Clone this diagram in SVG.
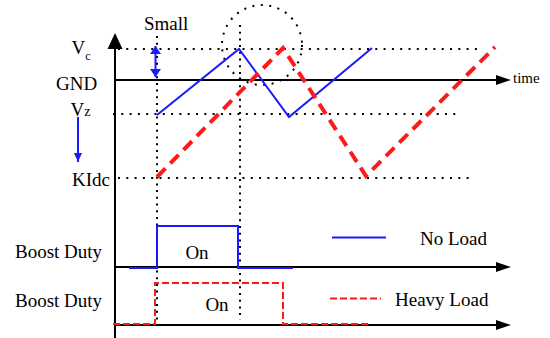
<svg xmlns="http://www.w3.org/2000/svg" width="550" height="338" viewBox="0 0 550 338">
<defs>
<style>
text{font-family:"Liberation Serif","Times New Roman",serif;fill:#000}
.lbl{font-size:19px}
.axis{stroke:#000;stroke-width:2;fill:none}
.dotH{stroke:#000;stroke-width:2;fill:none;stroke-dasharray:2 6.3}
.dotV{stroke:#000;stroke-width:2;fill:none;stroke-dasharray:2 4.7}
.blue{stroke:#1a1aff;stroke-width:2;fill:none}
.redT{stroke:#ff1a1a;stroke-width:4;fill:none;stroke-dasharray:12 7}
.redP{stroke:#ff1a1a;stroke-width:2;fill:none;stroke-dasharray:7 3}
</style>
<marker id="bh" viewBox="0 0 10 10" refX="10" refY="5" markerWidth="8" markerHeight="11" markerUnits="userSpaceOnUse" orient="auto-start-reverse" preserveAspectRatio="none">
<path d="M0,0 L10,5 L0,10 Z" fill="#1a1aff"/>
</marker>
<marker id="bh2" viewBox="0 0 10 10" refX="10" refY="5" markerWidth="9" markerHeight="8" markerUnits="userSpaceOnUse" orient="auto" preserveAspectRatio="none">
<path d="M0,0 L10,5 L0,10 Z" fill="#1a1aff"/>
</marker>
</defs>

<g id="axes">
<line class="axis" x1="115" y1="338" x2="115" y2="46"/>
<polygon points="115,33 107.5,49 122.5,49" fill="#000"/>
<line class="axis" x1="115" y1="80" x2="498" y2="80"/>
<polygon points="511,80 496,75 496,85" fill="#000"/>
<line class="axis" x1="115" y1="267" x2="498" y2="267"/>
<polygon points="511,267 496,262 496,272" fill="#000"/>
<line class="axis" x1="115" y1="325" x2="498" y2="325"/>
<polygon points="511,325 496,320 496,330" fill="#000"/>
</g>

<g id="guides">
<line class="dotH" x1="118" y1="49" x2="477" y2="49"/>
<line class="dotH" x1="113" y1="114" x2="460" y2="114"/>
<line class="dotH" x1="118" y1="178" x2="474" y2="178"/>
<line class="dotV" x1="157" y1="36" x2="157" y2="322"/>
<line class="dotV" x1="240" y1="25" x2="240" y2="320"/>
<circle cx="262" cy="45" r="40" fill="none" stroke="#000" stroke-width="2" stroke-dasharray="2 6.5"/>
</g>

<g id="connectors">
<polyline class="blue" points="157,115 239,49 289,117 372,48"/>
<polyline class="redT" points="157,177 283,48 366,176 495,47"/>
<line class="blue" x1="155.5" y1="46" x2="155.5" y2="77" marker-start="url(#bh)" marker-end="url(#bh)"/>
<line class="blue" x1="78" y1="117" x2="78" y2="162" marker-end="url(#bh2)"/>
<polyline class="blue" points="129,268 157,268 157,226 238,226 238,268 293,268"/>
<polyline class="redP" points="113,324 155,324 155,283 283,283 283,324 368,324"/>
</g>

<g id="labels">
<text class="lbl" x="144" y="30">Small</text>
<text class="lbl" x="71.5" y="54">V<tspan font-size="12" dy="5.5">c</tspan></text>
<text class="lbl" x="56" y="90">GND</text>
<text class="lbl" x="70.5" y="116">V<tspan font-size="14">z</tspan></text>
<text class="lbl" x="72" y="186">KIdc</text>
<text x="513" y="83" font-size="15">time</text>
<text class="lbl" x="15" y="258">Boost Duty</text>
<text class="lbl" x="15" y="307">Boost Duty</text>
<text class="lbl" x="197" y="259" text-anchor="middle">On</text>
<text class="lbl" x="217" y="311" text-anchor="middle">On</text>
</g>

<g id="legend">
<line class="blue" x1="332" y1="237.5" x2="386" y2="237.5"/>
<text class="lbl" x="420" y="245">No Load</text>
<line class="redP" x1="330" y1="298.5" x2="381" y2="298.5"/>
<text class="lbl" x="395" y="305.5">Heavy Load</text>
</g>
</svg>
